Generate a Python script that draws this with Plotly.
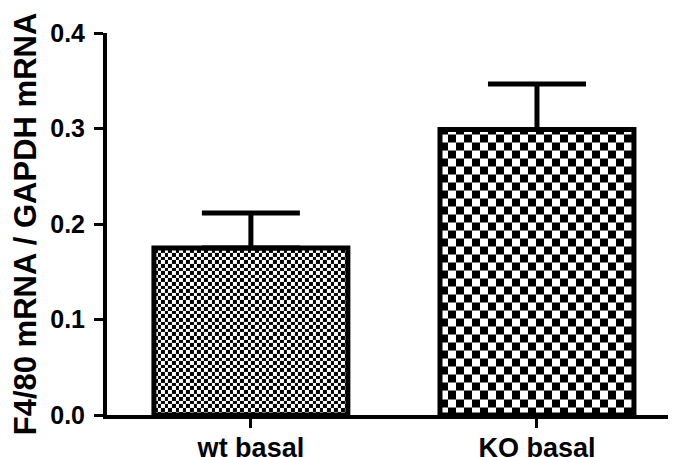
import numpy as np
import plotly.graph_objects as go

categories = ["wt basal", "KO basal"]
means = [0.175, 0.299]
errors = [0.0365, 0.0475]
y_ticks = [0.0, 0.1, 0.2, 0.3, 0.4]
y_tick_labels = ["0.0", "0.1", "0.2", "0.3", "0.4"]

x_pos = [0, 1]
bar_w = 0.678
# checker cell size per bar (x and y in data units)
cell_x = [0.0126, 0.028]
cell_y = [0.00377, 0.0084]

fig = go.Figure()

# checkerboard texture filling each bar
for xp, m, cx, cy in zip(x_pos, means, cell_x, cell_y):
    x0, x1 = xp - bar_w / 2, xp + bar_w / 2
    xe = list(np.arange(x0, x1 - cx * 0.3, cx)) + [x1]
    ye = list(np.arange(0, m - cy * 0.3, cy)) + [m]
    nx, ny = len(xe) - 1, len(ye) - 1
    z = [[(i + j) % 2 for i in range(nx)] for j in range(ny)]
    fig.add_trace(go.Heatmap(x=xe, y=ye, z=z, zmin=0, zmax=1,
                             colorscale=[[0, "white"], [1, "black"]],
                             showscale=False, hoverinfo="skip", zsmooth=False))

fig.add_trace(go.Bar(
    x=x_pos, y=means, width=bar_w,
    marker=dict(color="rgba(0,0,0,0)", line=dict(color="black", width=5)),
    error_y=dict(type="data", array=errors, arrayminus=[0, 0], symmetric=False,
                 color="black", thickness=5, width=49),
    showlegend=False, hoverinfo="skip"))

font = "Liberation Sans, Arial, sans-serif"
# the page body adds an 8px margin, so the figure is 8px smaller and margins shifted
fig.update_layout(
    width=668, height=449,
    margin=dict(l=99, r=0, t=25, b=42),
    paper_bgcolor="white", plot_bgcolor="white",
    showlegend=False,
    font=dict(family=font, size=20, color="black"),
    xaxis=dict(range=[-0.503, 1.486], tickvals=x_pos, ticktext=categories,
               showline=True, linewidth=4, linecolor="black",
               ticks="outside", ticklen=9, tickwidth=3, tickcolor="black",
               showgrid=False, zeroline=False, automargin=False,
               ticklabelstandoff=-3,
               tickfont=dict(family=font, size=27, color="black", weight="bold")),
    yaxis=dict(range=[0, 0.4], tickvals=y_ticks, ticktext=y_tick_labels,
               showline=True, linewidth=4, linecolor="black",
               ticks="outside", ticklen=9, tickwidth=3, tickcolor="black",
               showgrid=False, zeroline=False, automargin=False,
               ticklabelstandoff=4,
               tickfont=dict(family=font, size=25, color="black", weight="bold"),
               title=dict(text="F4/80 mRNA / GAPDH mRNA", standoff=14,
                          font=dict(family=font, size=31, color="black", weight="bold"))),
)

fig.write_html("out.html")
